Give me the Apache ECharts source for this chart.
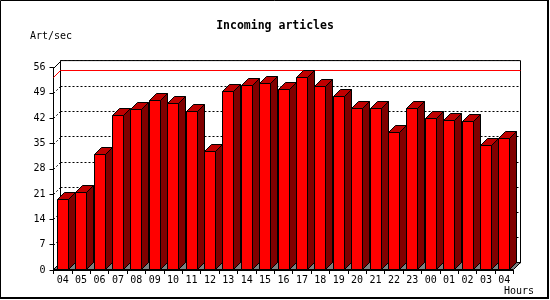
<!DOCTYPE html>
<html>
<head>
<meta charset="utf-8">
<script src="https://cdn.jsdelivr.net/npm/echarts@6/dist/echarts.min.js"></script>
<style>
html,body{margin:0;padding:0;background:#fff;}
#chart{width:550px;height:300px;}
</style>
</head>
<body>
<div id="chart"></div>
<script>
// ---- data ----
const categories = ['04','05','06','07','08','09','10','11','12','13','14','15','16','17','18','19','20','21','22','23','00','01','02','03','04'];
const values = [19.6,21.6,32.1,42.8,44.5,47.0,46.1,44.0,32.8,49.5,51.2,51.7,50.0,53.3,50.8,48.1,44.7,44.7,38.1,44.7,42.0,41.4,41.1,34.5,36.4];
const yTicks = [0,7,14,21,28,35,42,49,56];
const maxLine = 53.3;
const titleText = 'Incoming articles';
const yName = 'Art/sec';
const xName = 'Hours';

// ---- style ----
const DEPTH = 7;
const MONO = "'DejaVu Sans Mono', monospace";
const FRONT = '#ff0000', TOP = '#c00000', SIDE = '#800000', FLOOR = '#808080';
const snap = v => Math.round(v) + 0.5;

const chart = echarts.init(document.getElementById('chart'), null, {renderer:'canvas'});

function renderBar(params, api) {
  const i = api.value(0), v = api.value(1);
  const top = api.coord([i, v]);
  const bot = api.coord([i, 0]);
  const bw = api.size([1, 0])[0];
  const fw = Math.round(bw * 0.6);
  const x0 = snap(top[0] - 0.5 - fw / 2), x1 = x0 + fw;
  const yT = snap(top[1]), yB = snap(bot[1]) - 1;
  const d = DEPTH;
  const st = {stroke:'#000', lineWidth:1};
  return {
    type:'group',
    children:[
      {type:'polygon', shape:{points:[[x1,yT],[x1+d,yT-d],[x1+d,yB-d],[x1,yB]]}, style:Object.assign({fill:SIDE}, st)},
      {type:'polygon', shape:{points:[[x0,yT],[x1,yT],[x1+d,yT-d],[x0+d,yT-d]]}, style:Object.assign({fill:TOP}, st)},
      {type:'rect', shape:{x:x0, y:yT, width:fw, height:yB-yT}, style:Object.assign({fill:FRONT}, st)}
    ]
  };
}

function renderFrame(params, api) {
  const cs = params.coordSys;
  const d = DEPTH;
  const xl = snap(cs.x) - 1, xr = snap(cs.x + cs.width) - 1;
  const y0 = snap(api.coord([0, 0])[1]) - 1;
  const yTop = snap(api.coord([0, yTicks[yTicks.length - 1]])[1]);
  const children = [];
  // floor
  children.push({type:'polygon', shape:{points:[[xl,y0],[xr,y0],[xr+d,y0-d],[xl+d,y0-d]]},
    style:{fill:FLOOR, stroke:'#000', lineWidth:1}});
  // tick connectors (dashed)
  yTicks.forEach(t => {
    if (t === 0 || t === yTicks[yTicks.length - 1]) return;
    const y = snap(api.coord([0, t])[1]);
    children.push({type:'line', shape:{x1:xl, y1:y, x2:xl+d, y2:y-d},
      style:{stroke:'#000', lineWidth:1, lineDash:[2,2]}});
  });
  // top-left connector
  children.push({type:'line', shape:{x1:xl, y1:yTop, x2:xl+d, y2:yTop-d}, style:{stroke:'#000', lineWidth:1}});
  // max line (red)
  const ym = snap(api.coord([0, maxLine])[1]);
  children.push({type:'polyline', shape:{points:[[xl,ym],[xl+d,ym-d],[xr+d,ym-d]]},
    style:{stroke:'#ff0000', lineWidth:1, fill:null}});
  return {type:'group', children};
}

const option = {
  animation:false,
  backgroundColor:'#fff',
  title:{
    text:titleText, left:'center', top:20, padding:0,
    textStyle:{fontFamily:MONO, fontSize:11.5, fontWeight:'bold', color:'#000'}
  },
  grid:[
    {left:53.5, right:36.5, top:67.6, bottom:30},
    {left:60.5, right:29.5, top:60.6, bottom:37, show:true, borderColor:'#000', borderWidth:1, backgroundColor:'#fff'}
  ],
  xAxis:[
    {type:'category', gridIndex:0, data:categories, boundaryGap:true,
      axisLine:{lineStyle:{color:'#000', width:1}},
      axisTick:{show:true, length:4, interval:0, lineStyle:{color:'#000'}},
      axisLabel:{interval:0, margin:5, fontFamily:MONO, fontSize:10, color:'#000'},
      splitLine:{show:false}},
    {type:'category', gridIndex:1, data:categories, show:false}
  ],
  yAxis:[
    {type:'value', gridIndex:0, min:0, max:56, interval:7,
      axisLine:{show:true, lineStyle:{color:'#000', width:1}},
      axisTick:{show:true, length:4, lineStyle:{color:'#000'}},
      axisLabel:{margin:8, fontFamily:MONO, fontSize:10, color:'#000'},
      splitLine:{show:false}},
    {type:'value', gridIndex:1, min:0, max:56, interval:7,
      axisLine:{show:false}, axisTick:{show:false}, axisLabel:{show:false},
      splitLine:{show:true, lineStyle:{color:'#000', type:[2,2], width:1}}}
  ],
  series:[
    {type:'custom', xAxisIndex:0, yAxisIndex:0, z:1, clip:false,
      data:[[0,0]], renderItem:renderFrame, silent:true},
    {type:'custom', xAxisIndex:0, yAxisIndex:0, z:2, clip:false,
      data:values.map((v,i)=>[i,v]), encode:{x:0,y:1}, renderItem:renderBar}
  ],
  graphic:[
    {type:'polyline', shape:{points:[[0.5,299],[0.5,0.5],[549,0.5]]}, style:{fill:null, stroke:'#000', lineWidth:1}, z:100},
    {type:'rect', shape:{x:547, y:0, width:2, height:299}, style:{fill:'#000'}, z:100},
    {type:'rect', shape:{x:0, y:297, width:549, height:2}, style:{fill:'#000'}, z:100},
    {type:'text', left:30, top:31, style:{text:yName, font:"10px 'DejaVu Sans Mono'", fill:'#000'}},
    {type:'text', left:504, top:286, style:{text:xName, font:"10px 'DejaVu Sans Mono'", fill:'#000'}}
  ]
};
chart.setOption(option);
</script>
</body>
</html>
